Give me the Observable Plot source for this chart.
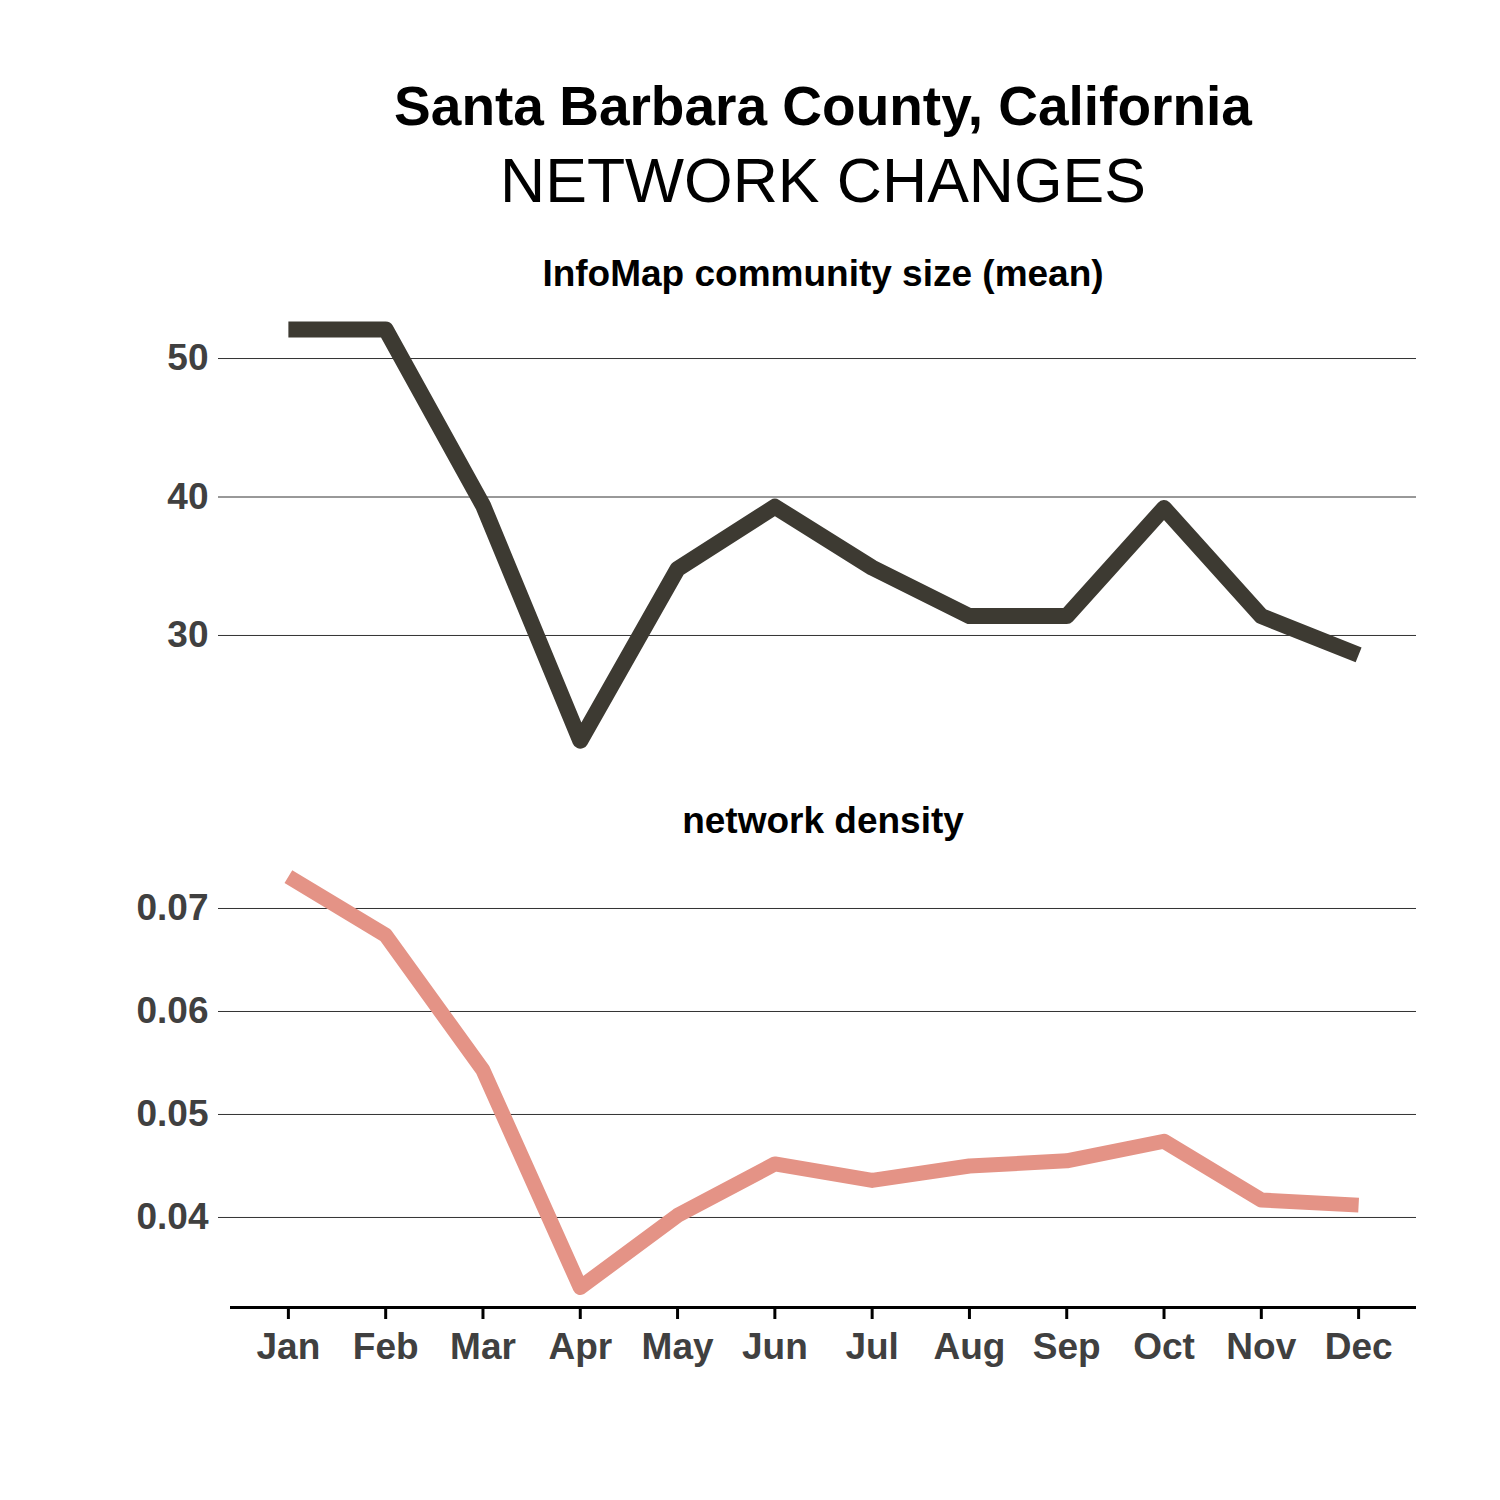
<!DOCTYPE html>
<html>
<head>
<meta charset="utf-8">
<script src="https://cdn.jsdelivr.net/npm/d3@7"></script>
<script src="https://cdn.jsdelivr.net/npm/@observablehq/plot@0.6"></script>
<style>
  html, body { margin: 0; padding: 0; background: #fff; }
  #wrap { position: relative; width: 1500px; height: 1500px; font-family: "Liberation Sans", Arial, Helvetica, sans-serif; }
  .t { position: absolute; left: 230px; width: 1186px; text-align: center; color: #000; white-space: nowrap; line-height: 1; }
  .p { position: absolute; left: 0; }
</style>
</head>
<body>
<div id="wrap">
  <div class="t" style="top:79px;font-size:55px;font-weight:bold;">Santa Barbara County, California</div>
  <div class="t" style="top:149px;font-size:62.5px;">NETWORK CHANGES</div>
  <div class="t" style="top:255px;font-size:37px;font-weight:bold;">InfoMap community size (mean)</div>
  <div class="t" style="top:802px;font-size:37px;font-weight:bold;">network density</div>
  <div id="top" class="p" style="top:300px"></div>
  <div id="bottom" class="p" style="top:850px"></div>
</div>
<script>
const months = ["Jan","Feb","Mar","Apr","May","Jun","Jul","Aug","Sep","Oct","Nov","Dec"];
const communitySize = [52.1, 52.1, 39.4, 22.4, 34.8, 39.3, 34.9, 31.4, 31.4, 39.2, 31.4, 28.6];
const networkDensity = [0.0731, 0.0674, 0.0543, 0.0332, 0.0402, 0.0452, 0.0436, 0.0450, 0.0455, 0.0474, 0.0417, 0.0412];
const sizeTicks = [30, 40, 50];
const densityTicks = [0.04, 0.05, 0.06, 0.07];

const sizeData = months.map((m, i) => ({month: m, value: communitySize[i]}));
const densityData = months.map((m, i) => ({month: m, value: networkDensity[i]}));

const sizeDomain = [20.25, 54.19];
const densityDomain = [0.03126, 0.07563];

const baseStyle = {fontFamily: '"Liberation Sans", Arial, Helvetica, sans-serif', fontSize: "37px", fontWeight: "bold", background: "transparent", overflow: "visible"};
const xScale = {type: "point", domain: months, padding: 0.595, round: false, label: null};

const topPlot = Plot.plot({
  width: 1500, height: 470,
  marginLeft: 230, marginRight: 84, marginTop: 0, marginBottom: 0,
  style: baseStyle,
  x: {...xScale, axis: null},
  y: {domain: sizeDomain, label: null, axis: null},
  marks: [
    Plot.ruleY(sizeTicks, {stroke: "#333", strokeWidth: 1, insetLeft: -12}),
    Plot.axisY({ticks: sizeTicks, tickSize: 0, tickPadding: 22, fill: "#404040", fontWeight: "bold", fontSize: 37, label: null}),
    Plot.line(sizeData, {x: "month", y: "value", stroke: "#3d3a32", strokeWidth: 16, strokeLinecap: "butt", strokeLinejoin: "round"})
  ]
});
document.getElementById("top").appendChild(topPlot);

const bottomPlot = Plot.plot({
  width: 1500, height: 530,
  marginLeft: 230, marginRight: 84, marginTop: 0, marginBottom: 73,
  style: baseStyle,
  x: {...xScale, axis: null},
  y: {domain: densityDomain, label: null, axis: null},
  marks: [
    Plot.ruleY(densityTicks, {stroke: "#333", strokeWidth: 1, insetLeft: -12}),
    Plot.axisY({ticks: densityTicks, tickFormat: d3.format(".2f"), tickSize: 0, tickPadding: 22, fill: "#404040", fontWeight: "bold", fontSize: 37, label: null}),
    Plot.line(densityData, {x: "month", y: "value", stroke: "#e49386", strokeWidth: 15, strokeLinecap: "butt", strokeLinejoin: "round"}),
    Plot.ruleY([densityDomain[0]], {stroke: "#000", strokeWidth: 3}),
    Plot.axisX({tickSize: 12, strokeWidth: 3, stroke: "#000", text: null, label: null}),
    Plot.axisX({tickSize: 0, tickPadding: 25, fill: "#404040", fontWeight: "bold", fontSize: 37, label: null})
  ]
});
document.getElementById("bottom").appendChild(bottomPlot);
</script>
</body>
</html>
